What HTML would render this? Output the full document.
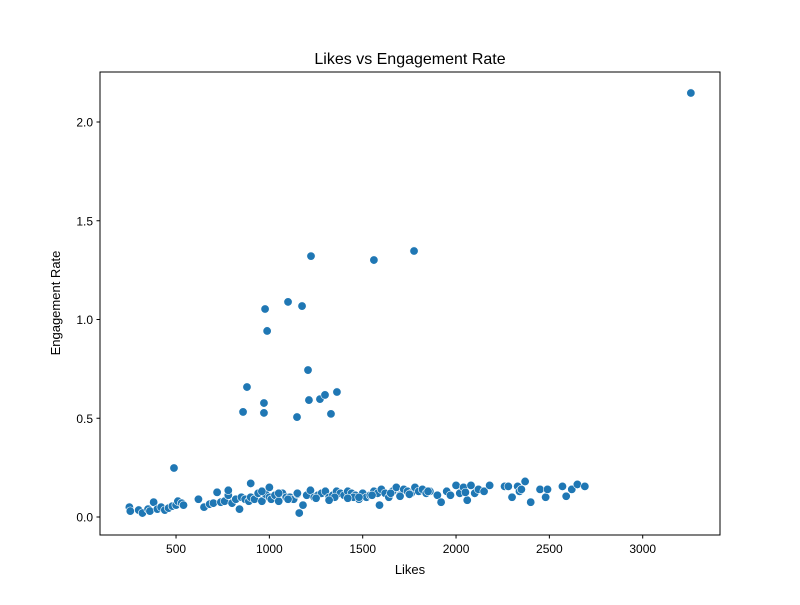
<!DOCTYPE html>
<html><head><meta charset="utf-8"><style>
body{margin:0;background:#fff;font-family:"Liberation Sans","DejaVu Sans",sans-serif;}
</style></head><body>
<svg id="chart" width="800" height="600" xmlns="http://www.w3.org/2000/svg">
<rect width="800" height="600" fill="#fff"/>
<text x="410" y="64" text-anchor="middle" font-size="16" fill="#000">Likes vs Engagement Rate</text>
<text x="410" y="574" text-anchor="middle" font-size="13" fill="#000">Likes</text>
<text x="60" y="303" text-anchor="middle" font-size="13" fill="#000" transform="rotate(-90 60 303)">Engagement Rate</text>
<g id="ticks"></g>
<g id="points"></g>
<rect x="100" y="72" width="620" height="463" fill="none" stroke="#000" stroke-width="1"/>
</svg>
<script>
const xTicks=[500,1000,1500,2000,2500,3000];
const yTicks=[0.0,0.5,1.0,1.5,2.0];
const likes=[3258,489,977,988,1100,1175,1223,1560,1775,859,880,971,971,1207,1212,1271,1298,1330,1362,1148,
250,255,300,320,350,360,380,400,420,440,460,480,500,510,530,540,620,650,680,700,720,740,760,780,800,820,840,850,870,890,900,920,940,960,980,1000,1010,1030,1050,1070,1090,1110,1130,1150,1160,1180,1200,1220,1240,1260,1280,1300,1320,1340,1360,1380,1400,1420,1440,1460,1480,1500,1520,1540,1560,1580,1590,1600,1620,1640,1660,1680,1700,1720,1740,1760,1780,1800,1820,1840,1860,1900,1920,1950,1970,2000,2020,2040,2060,2080,2100,2120,2150,2180,2260,2280,2300,2330,2340,2350,2370,2400,2450,2480,2490,2570,2590,2620,2650,2690,
900,1000,1100,1250,1350,1450,1550,1650,1750,1850,1050,1150,1420,1700,2050,780,960,1320,1480];
const engagement=[2.147,0.248,1.053,0.942,1.089,1.068,1.321,1.301,1.347,0.532,0.658,0.577,0.527,0.744,0.592,0.597,0.618,0.522,0.633,0.506,
0.05,0.03,0.035,0.02,0.04,0.03,0.075,0.04,0.05,0.035,0.045,0.055,0.06,0.08,0.07,0.06,0.09,0.05,0.065,0.07,0.125,0.075,0.08,0.11,0.07,0.09,0.04,0.1,0.09,0.08,0.1,0.09,0.12,0.08,0.115,0.1,0.09,0.11,0.08,0.12,0.1,0.1,0.09,0.115,0.02,0.06,0.11,0.135,0.1,0.11,0.12,0.13,0.1,0.11,0.13,0.12,0.11,0.13,0.12,0.11,0.09,0.12,0.1,0.11,0.13,0.12,0.06,0.14,0.12,0.1,0.13,0.15,0.11,0.14,0.13,0.12,0.15,0.13,0.14,0.12,0.13,0.11,0.075,0.13,0.11,0.16,0.12,0.15,0.085,0.16,0.12,0.14,0.13,0.16,0.155,0.155,0.1,0.155,0.13,0.14,0.18,0.075,0.14,0.1,0.14,0.155,0.105,0.14,0.165,0.155,0.17,0.15,
0.09,0.095,0.1,0.1,0.11,0.12,0.115,0.13,0.12,0.12,0.095,0.105,0.125,0.135,0.13,0.085,0.1,0.115,0.125];
const X0=82.7,XS=0.18667,Y0=517,YS=197.5;
const sx=v=>X0+v*XS, sy=v=>Y0-v*YS;
const NS="http://www.w3.org/2000/svg";
const tg=document.getElementById('ticks');
xTicks.forEach(t=>{
  const l=document.createElementNS(NS,'line');
  l.setAttribute('x1',sx(t));l.setAttribute('x2',sx(t));l.setAttribute('y1',535);l.setAttribute('y2',538.5);l.setAttribute('stroke','#000');
  
  
  tg.appendChild(l);
  const tx=document.createElementNS(NS,'text');
  tx.setAttribute('x',sx(t));tx.setAttribute('y',553);tx.setAttribute('text-anchor','middle');tx.setAttribute('font-size','12');
  tx.textContent=t;
  
  
  tg.appendChild(tx);
});
yTicks.forEach(t=>{
  const l=document.createElementNS(NS,'line');
  l.setAttribute('x1',96.5);l.setAttribute('x2',100);l.setAttribute('y1',sy(t));l.setAttribute('y2',sy(t));l.setAttribute('stroke','#000');
  
  
  tg.appendChild(l);
  const tx=document.createElementNS(NS,'text');
  tx.setAttribute('x',93);tx.setAttribute('y',sy(t)+4.5);tx.setAttribute('text-anchor','end');tx.setAttribute('font-size','12');
  tx.textContent=t.toFixed(1);
  
  
  tg.appendChild(tx);
});
const pg=document.getElementById('points');
likes.forEach((v,i)=>{
  const c=document.createElementNS(NS,'circle');
  c.setAttribute('cx',sx(v));c.setAttribute('cy',sy(engagement[i]));c.setAttribute('r',4.2);
  c.setAttribute('fill','#1f77b4');c.setAttribute('stroke','#fff');c.setAttribute('stroke-width','0.6');
  
  
  pg.appendChild(c);
});
</script>
</body></html>
